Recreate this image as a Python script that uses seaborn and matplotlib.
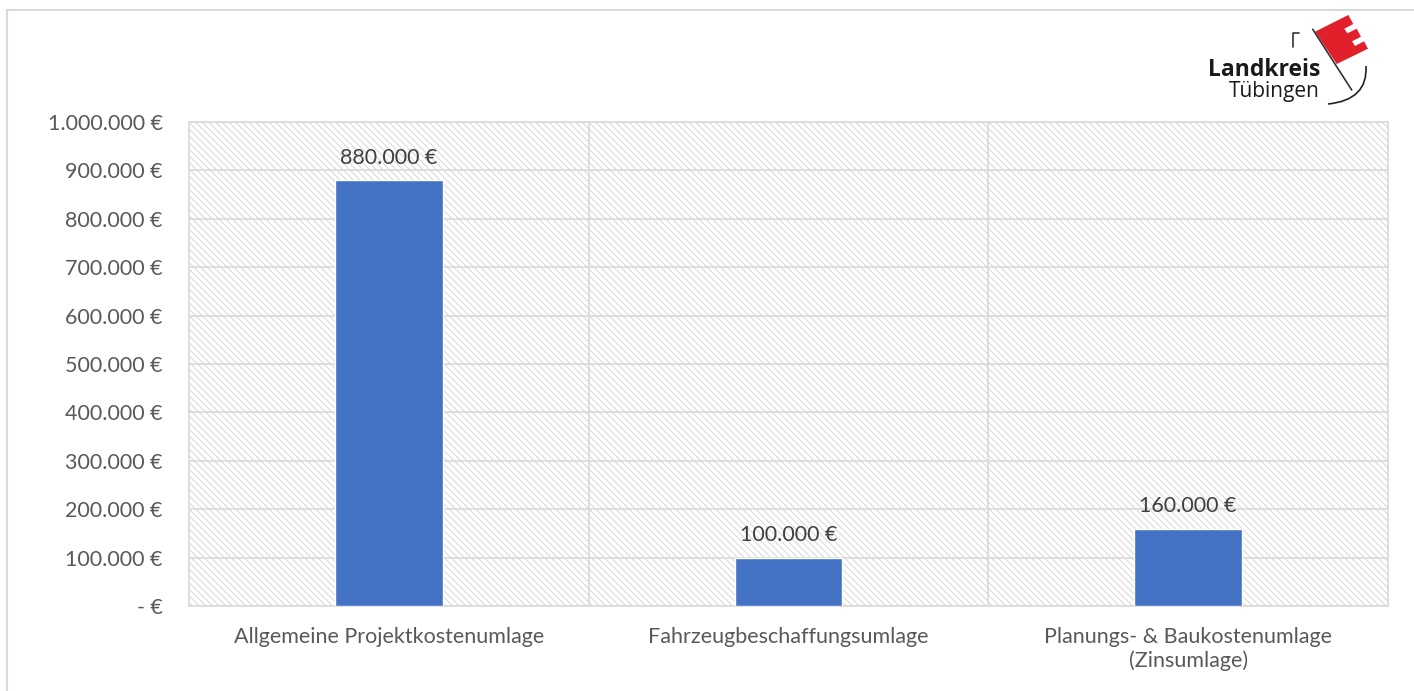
import matplotlib
matplotlib.use("Agg")
import matplotlib.pyplot as plt
from matplotlib.patches import Rectangle, Polygon, PathPatch
from matplotlib.path import Path
from matplotlib.lines import Line2D
from matplotlib.ticker import FuncFormatter, MultipleLocator
import seaborn as sns

# data
categories = ["Allgemeine Projektkostenumlage",
              "Fahrzeugbeschaffungsumlage",
              "Planungs- & Baukostenumlage\n(Zinsumlage)"]
values = [880000, 100000, 160000]

W, H = 1414, 691
BAR_COLOR = "#4472C4"
GRID = "#d9d9d9"
TEXT = "#595959"

sns.set_theme(style="white")
plt.rcParams["font.family"] = ["Lato", "DejaVu Sans"]
plt.rcParams["hatch.linewidth"] = 0.6


def euro(v, pos=None):
    if v == 0:
        return "- €"
    return f"{v:,.0f} €".replace(",", ".")


def px(x, y):
    # pixel position (top-left origin) -> figure fraction
    return x / W, 1 - y / H


fig = plt.figure(figsize=(W / 100, H / 100), dpi=100)
ax = fig.add_axes([189 / W, 1 - 606 / H, (1388 - 189) / W, (606 - 122) / H])
ax.set_facecolor("white")

# hatched plot area like the Excel chart
ax.add_patch(Rectangle((0, 0), 1, 1, transform=ax.transAxes, facecolor="white",
                       edgecolor="#d0d0d0", hatch="\\\\\\\\\\", linewidth=0, zorder=-1))

sns.barplot(x=categories, y=values, color=BAR_COLOR, saturation=1, width=0.27,
            ax=ax, zorder=3)

ax.set_xlim(-0.5, len(categories) - 0.5)
ax.set_ylim(0, 1000000)
ax.yaxis.set_major_locator(MultipleLocator(100000))
ax.yaxis.set_major_formatter(FuncFormatter(euro))
ax.grid(axis="y", color=GRID, linewidth=1.2)
for b in [0.5, 1.5]:
    ax.axvline(b, color=GRID, linewidth=1.2, zorder=0.5)
ax.set_axisbelow(True)
for s in ax.spines.values():
    s.set_color(GRID)
    s.set_linewidth(1.2)

ax.tick_params(axis="y", length=0, pad=19, labelsize=15.5, labelcolor=TEXT)
ax.tick_params(axis="x", length=0, pad=15, labelsize=15.5, labelcolor=TEXT)
ax.set_xlabel("")
ax.set_ylabel("")

for cont in ax.containers:
    ax.bar_label(cont, labels=[euro(v) for v in values], padding=9,
                 fontsize=15.5, color="#404040")

# outer frame (top and left edges visible in the reference)
fig.add_artist(Line2D([7 / W, 1], [1 - 10 / H, 1 - 10 / H], color=GRID, lw=1.5))
fig.add_artist(Line2D([7 / W, 7 / W], [0, 1 - 10 / H], color=GRID, lw=1.5))

# Landkreis Tübingen logo
fig.text(*px(1320, 76), "Landkreis", ha="right", va="baseline", fontsize=16.5,
         fontweight="bold", color="#1a1a1a", family=["Open Sans", "DejaVu Sans"])
fig.text(*px(1320, 97), "Tübingen", ha="right", va="baseline", fontsize=15,
         color="#1a1a1a", family=["Open Sans", "DejaVu Sans"])
flag_px = [(1315, 31.7), (1348.3, 15), (1353.3, 24), (1344.3, 28.7), (1347.3, 33.3),
           (1356.7, 28.7), (1361, 36.7), (1352, 41.3), (1355, 46), (1364, 41.3),
           (1368, 48.7), (1336.7, 64)]
fig.add_artist(Polygon([px(x, y) for x, y in flag_px], closed=True,
                       facecolor="#e2202c", edgecolor="none", transform=fig.transFigure))
fig.add_artist(Line2D(*zip(px(1312.7, 29.3), px(1351.7, 90)), color="#333333", lw=1.2))
fig.add_artist(Line2D(*zip(px(1293, 47), px(1293, 33), px(1299, 33)), color="#333333", lw=1.2))
curve = Path([px(1328, 104), px(1368, 100), px(1366, 66)],
             [Path.MOVETO, Path.CURVE3, Path.CURVE3])
fig.add_artist(PathPatch(curve, facecolor="none", edgecolor="#222222", lw=1.2,
                         transform=fig.transFigure))

fig.savefig("out.png", dpi=100)
